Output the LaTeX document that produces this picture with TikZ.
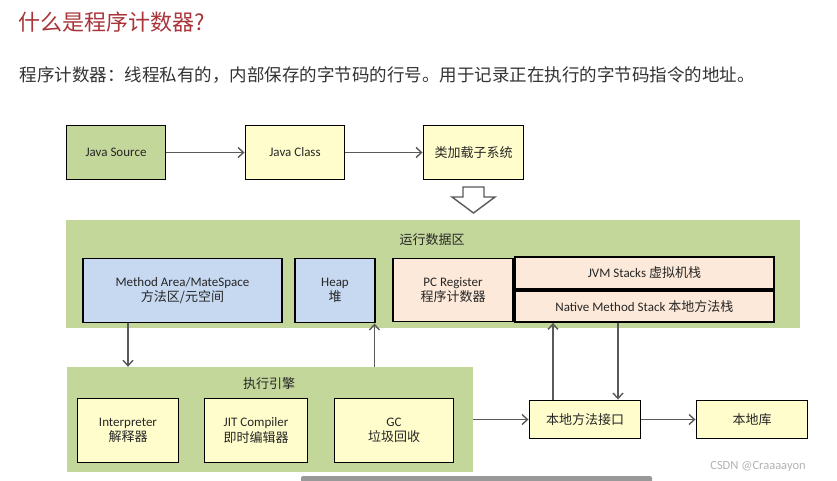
\documentclass[tikz,border=0pt]{standalone}
\usepackage{fontspec}
\setmainfont{Carlito}
\newfontfamily\cjk{Noto Sans CJK SC}
\usepackage{xcolor}
\usetikzlibrary{arrows.meta,calc}
\definecolor{zoneG}{HTML}{C4D79B}
\definecolor{boxY}{HTML}{FFFDCC}
\definecolor{boxB}{HTML}{C6D9F1}
\definecolor{boxP}{HTML}{FDE9D9}
\definecolor{arrG}{HTML}{595959}
\definecolor{titR}{HTML}{A93439}
\newcommand{\zh}[1]{{\cjk\fontsize{13}{16}\selectfont #1}}
\tikzset{
  every node/.style={font=\fontsize{13}{15.5}\selectfont, text=black!85},
  box/.style={draw=black, line width=1.9pt, align=center, inner sep=0pt,
    minimum height=#1},
  box/.default=64pt,
  gbox/.style={box=54pt, fill=zoneG},
  ybox/.style={box=54pt, fill=boxY},
  bbox/.style={box, fill=boxB},
  pbox/.style={box, fill=boxP},
  zone/.style={fill=zoneG, inner sep=0pt},
  arr/.style={draw=arrG, line width=1.4pt, -{Straight Barb[length=5.5pt,width=10pt]}},
}
\begin{document}
\begin{tikzpicture}[x=1pt,y=-1pt]
\useasboundingbox (0,0) rectangle (837,481);
% heading
\node[anchor=west, font=\cjk\fontsize{22}{26}\selectfont, text=titR] (title) at (15,22) {什么是程序计数器?};
\node[anchor=west, font=\cjk\fontsize{17.5}{20}\selectfont, text=black!80] (intro) at (16,75)
  {程序计数器：线程私有的，内部保存的字节码的行号。用于记录正在执行的字节码指令的地址。};
% class loading
\node[gbox, minimum width=99pt] (src) at (116,152.5) {Java Source};
\node[ybox, minimum width=99pt] (cls) at (295,152.5) {Java Class};
\node[ybox, minimum width=100pt] (ldr) at (473.5,152.5) {\zh{类加载子系统}};
\draw[arr] (src) -- (cls);
\draw[arr] (cls) -- (ldr);
\draw[draw=arrG, line width=1.4pt, fill=white]
  (463,187) -- (484,187) -- (484,197) -- (495,197) -- (473.5,213)
  -- (452,197) -- (463,197) -- cycle;
% runtime data area
\node[zone, minimum width=734pt, minimum height=108pt] (rtd) at (433,274) {};
\node (rtdl) at (432,240) {\zh{运行数据区}};
\node[bbox, minimum width=199pt] (ma) at (182.5,290.5) {Method Area/MateSpace\\\zh{方法区/元空间}};
\node[bbox, minimum width=80pt] (hp) at (335,290.5) {Heap\\\zh{堆}};
\node[pbox, minimum width=120pt, minimum height=63pt] (pc) at (453,290) {PC Register\\\zh{程序计数器}};
\node[pbox, anchor=south west, minimum width=259pt, minimum height=32pt] (jvm) at (pc.west -| pc.east) {JVM Stacks \zh{虚拟机栈}};
\node[pbox, anchor=north west, minimum width=259pt, minimum height=31pt] (nms) at (pc.west -| pc.east) {Native Method Stack \zh{本地方法栈}};
% execution engine
\node[zone, minimum width=406pt, minimum height=105pt] (ee) at (270,419.5) {};
\node (eel) at (269,384) {\zh{执行引擎}};
\node[ybox, box=64pt, minimum width=101pt] (itp) at (128,430.5) {Interpreter\\\zh{解释器}};
\node[ybox, box=64pt, minimum width=103pt] (jit) at (256,430.5) {JIT Compiler\\\zh{即时编辑器}};
\node[ybox, box=64pt, minimum width=119pt] (gc) at (394,430.5) {GC\\\zh{垃圾回收}};
% native side
\node[ybox, box=38pt, minimum width=111pt] (nmi) at (585,419.5) {\zh{本地方法接口}};
\node[ybox, box=38pt, minimum width=111pt] (lib) at (752,419.5) {\zh{本地库}};
% connectors
\coordinate (max) at ([xshift=-54.5pt]ma.south);
\draw[arr] (max) -- (max |- ee.north);
\coordinate (hpx) at ([xshift=-1.5pt]hp.south east);
\draw[arr] (hpx |- ee.north) -- (hpx);
\draw[arr] (ee.east |- nmi.west) -- (nmi.west);
\draw[arr] (nmi) -- (lib);
\coordinate (upx) at ([xshift=-32pt]nmi.north);
\draw[arr] (upx) -- (upx |- nms.south);
\coordinate (dnx) at ([xshift=33pt]nmi.north);
\draw[arr] (dnx |- nms.south) -- (dnx);
% screen leftovers
\node[text=black!30, font=\fontsize{12.5}{14}\selectfont] (mark) at (758,466) {CSDN @Craaaayon};
\fill[black!40, rounded corners=2pt] (301,476) rectangle (652,483);
\end{tikzpicture}
\end{document}
